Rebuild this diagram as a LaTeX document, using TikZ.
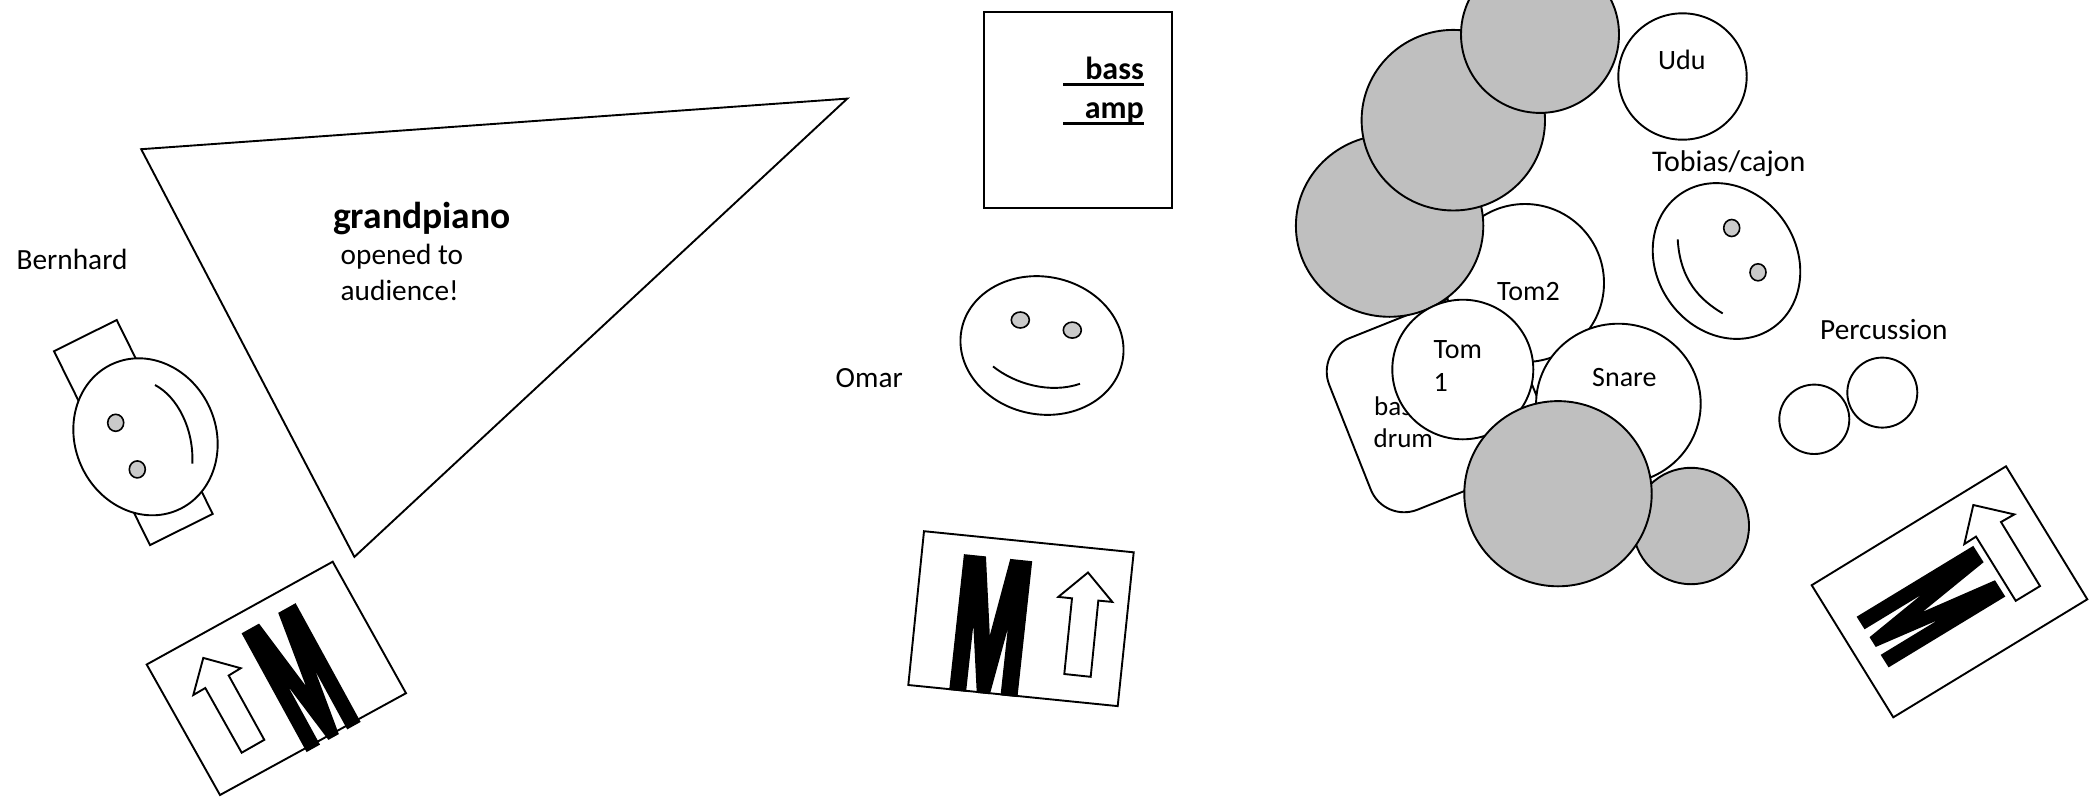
\documentclass[tikz,border=0pt]{standalone}
\usepackage{fontspec}
\setmainfont{Carlito}
\newfontfamily\mfont[BoldFeatures={FakeBold=6}]{Liberation Sans}
\usetikzlibrary{shapes.geometric}
\newcommand{\ulbass}[1]{\makebox[80.7pt][r]{#1}\llap{\rule[-6pt]{80.7pt}{2.4pt}}}
\tikzset{
  ln/.style={draw=black,line width=1.9pt,line join=miter},
  face/.style={shape=ellipse,ln,fill=white,inner sep=0pt},
  eye/.style={shape=ellipse,draw=black,line width=1.6pt,fill=eyegray,inner sep=0pt},
  drum/.style={shape=ellipse,ln,fill=white,inner sep=0pt},
  cym/.style={shape=ellipse,ln,fill=cymgray,inner sep=0pt},
  lbl/.style={anchor=base west,inner sep=0pt,font=\fontsize{29.3}{36}\selectfont},
  dlbl/.style={anchor=base west,inner sep=0pt,font=\fontsize{28}{36}\selectfont},
  blbl/.style={anchor=base east,inner sep=0pt,font=\fontsize{32}{36}\selectfont\bfseries},
  mg/.style={anchor=base west,inner sep=0pt,transform shape,font=\fontsize{100}{100}\mfont\bfseries}
}
\definecolor{eyegray}{HTML}{CACACA}
\definecolor{cymgray}{HTML}{BFBFBF}
\begin{document}
\begin{tikzpicture}[x=1pt,y=-1pt]
\useasboundingbox (0,0) rectangle (2089,796);
% Bernhard
\node[lbl] (bernhard) at (16.5,269) {Bernhard};
\draw[ln,fill=white] (54,351.2) -- (116.7,320) -- (212.7,513.9) -- (150,545.1) -- cycle;
\node[face,minimum width=160pt,minimum height=141pt,rotate=-65.9] (head1) at (145.5,436.8) {};
\node[eye,minimum width=16pt,minimum height=17pt] (e1a) at (115.7,422.8) {};
\node[eye,minimum width=16pt,minimum height=17pt] (e1b) at (137.3,469.4) {};
\draw[ln] (155,385) .. controls (178,397) and (194,430) .. (192.3,463.6);
% piano
\draw[ln] (141.2,149.2) -- (847.3,98.6) -- (354.4,556.9) -- cycle;
\node[anchor=base west,inner sep=0pt,font=\fontsize{37.5}{40}\selectfont\bfseries] (gp) at (333,228) {grandpiano};
\node[lbl] (op) at (340.5,264) {opened to};
\node[lbl] (au) at (340.5,300) {audience!};
% M1
\draw[ln] (146.7,664.5) -- (332.7,561.7) -- (406,693.2) -- (220,795) -- cycle;
\draw[ln] (203.3,657.9) -- (240.7,668.2) -- (228.7,675.5) -- (264.3,739.8) -- (241.7,752.7) -- (205.3,688) -- (193.3,695) -- cycle;
\begin{scope}[miter limit=2,cm={.711,.397,-.869,1.587,(306.7,752)}]
\node[mg] (m1) at (-4,-3) {M};
\end{scope}
% bass amp
\draw[ln] (983.7,12.4) rectangle (1172.4,208);
\node[blbl] (bass) at (1144,79.5) {\ulbass{bass}};
\node[blbl] (amp) at (1144,118.5) {\ulbass{amp}};
% Omar
\node[lbl] (omar) at (835.5,387) {Omar};
\node[face,minimum width=164pt,minimum height=137.6pt,rotate=-11.3] (head2) at (1042,345.5) {};
\node[eye,minimum width=18pt,minimum height=16pt] (e2a) at (1020.3,320) {};
\node[eye,minimum width=18pt,minimum height=16pt] (e2b) at (1072.3,330.1) {};
\draw[ln] (993,366.4) .. controls (1015,384) and (1050,394) .. (1080,383.8);
% M2
\draw[ln] (924,531.2) -- (1133.7,552.3) -- (1117.7,706.1) -- (908.3,685) -- cycle;
\draw[ln] (1088,572.5) -- (1112.3,601.9) -- (1098.3,600.6) -- (1090.7,676.8) -- (1064.3,674) -- (1072,598.3) -- (1058.3,596.9) -- cycle;
\begin{scope}[miter limit=2,cm={.899,-.093,.197,1.816,(949.3,690)}]
\node[mg] (m2) at (-4,-3) {M};
\end{scope}
% drum kit
\draw[ln,fill=white,rounded corners=36pt] (1316,351.5) -- (1490,282) -- (1560,453) -- (1384,523) -- cycle;
\node[anchor=base west,inner sep=0pt,font=\fontsize{27}{36}\selectfont] (bd1) at (1374,415.5) {bass};
\node[anchor=base west,inner sep=0pt,font=\fontsize{27}{36}\selectfont] (bd2) at (1373.5,447.5) {drum};
\node[drum,minimum width=158pt,minimum height=158pt] (tom2) at (1525,283) {};
\node[dlbl] (tom2l) at (1497,300.5) {Tom2};
\node[cym,minimum width=187.4pt,minimum height=182pt] (g3) at (1389.6,225.8) {};
\node[cym,minimum width=183.4pt,minimum height=180.6pt] (g2) at (1453.3,120.2) {};
\node[cym,minimum width=158pt,minimum height=157pt] (g1) at (1540,34.4) {};
\node[drum,minimum width=141pt,minimum height=139.6pt] (tom1) at (1462.8,369.5) {};
\node[dlbl] (tom1a) at (1433.5,358.5) {Tom};
\node[dlbl] (tom1b) at (1433.5,391.5) {1};
\node[cym,minimum width=116pt,minimum height=116.4pt] (g5) at (1691,526) {};
\node[drum,minimum width=164.6pt,minimum height=160pt] (snare) at (1618.4,403.7) {};
\node[dlbl] (snarel) at (1592,386) {Snare};
\node[cym,minimum width=187.4pt,minimum height=185.2pt] (g4) at (1558,493.7) {};
\node[drum,minimum width=128.4pt,minimum height=126.4pt] (udu) at (1682.5,76.5) {};
\node[dlbl] (udul) at (1658,69.5) {Udu};
% Tobias
\node[anchor=base west,inner sep=0pt,font=\fontsize{30}{36}\selectfont] (tob) at (1652,171.5) {Tobias/cajon};
\node[face,minimum width=162.6pt,minimum height=140pt,rotate=-55.7] (head3) at (1726.5,261) {};
\node[eye,minimum width=16pt,minimum height=17pt] (e3a) at (1731.7,228) {};
\node[eye,minimum width=16pt,minimum height=17pt] (e3b) at (1758,272.3) {};
\draw[ln] (1677.7,239.3) .. controls (1680,280) and (1700,300) .. (1722.7,313.4);
% Percussion
\node[lbl] (perc) at (1820,339) {Percussion};
\node[drum,minimum width=70pt,minimum height=69.4pt] (p1) at (1814.3,419.3) {};
\node[drum,minimum width=70pt,minimum height=70pt] (p2) at (1882.3,392.6) {};
% M3
\draw[ln] (1811.7,585.2) -- (2006,466.3) -- (2087.3,599.3) -- (1893.3,717.3) -- cycle;
\draw[ln] (1973.3,505) -- (2014.3,514.4) -- (2001,522) -- (2040,586.1) -- (2015.7,600.8) -- (1976,536.6) -- (1964.3,544.1) -- cycle;
\begin{scope}[miter limit=2,cm={.421,-.667,1.559,.947,(1856.7,616.8)}]
\node[mg] (m3) at (-4,-3) {M};
\end{scope}
\end{tikzpicture}
\end{document}
